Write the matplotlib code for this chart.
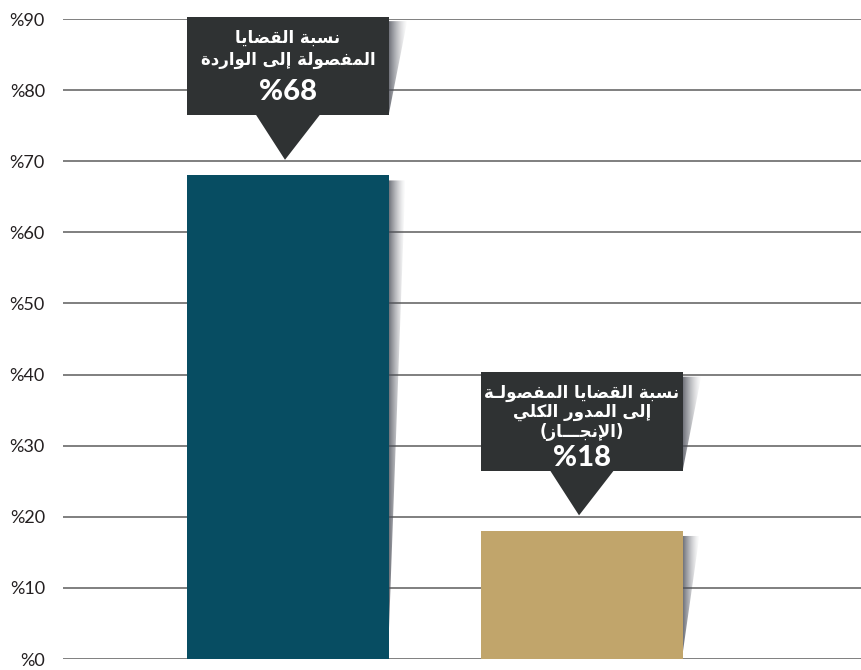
import matplotlib
matplotlib.use("Agg")
import matplotlib.pyplot as plt
import numpy as np
from matplotlib.patches import Rectangle, Polygon

# ---------------------------------------------------------------- data
categories = ["الواردة", "الإنجاز"]
values = [68, 18]
bar_colors = ["#074d62", "#c1a56b"]
callout_lines = [
    ["نسبة القضايا", "المفصولة إلى الواردة"],
    ["نسبة القضايا المفصولـة", "إلى المدور الكلي", "(الإنجـــاز)"],
]
y_ticks = [0, 10, 20, 30, 40, 50, 60, 70, 80, 90]
y_tick_labels = ["%" + str(t) for t in y_ticks]

# ------------------------------------------------- minimal Arabic shaping
# (isolated, final, initial, medial); right-joining letters have no initial/medial
FORMS = {
    "ا": ("\uFE8D", "\uFE8E", None, None),
    "إ": ("\uFE87", "\uFE88", None, None),
    "أ": ("\uFE83", "\uFE84", None, None),
    "ب": ("\uFE8F", "\uFE90", "\uFE91", "\uFE92"),
    "ة": ("\uFE93", "\uFE94", None, None),
    "ت": ("\uFE95", "\uFE96", "\uFE97", "\uFE98"),
    "ج": ("\uFE9D", "\uFE9E", "\uFE9F", "\uFEA0"),
    "د": ("\uFEA9", "\uFEAA", None, None),
    "ر": ("\uFEAD", "\uFEAE", None, None),
    "ز": ("\uFEAF", "\uFEB0", None, None),
    "س": ("\uFEB1", "\uFEB2", "\uFEB3", "\uFEB4"),
    "ص": ("\uFEB9", "\uFEBA", "\uFEBB", "\uFEBC"),
    "ض": ("\uFEBD", "\uFEBE", "\uFEBF", "\uFEC0"),
    "ف": ("\uFED1", "\uFED2", "\uFED3", "\uFED4"),
    "ق": ("\uFED5", "\uFED6", "\uFED7", "\uFED8"),
    "ك": ("\uFED9", "\uFEDA", "\uFEDB", "\uFEDC"),
    "ل": ("\uFEDD", "\uFEDE", "\uFEDF", "\uFEE0"),
    "م": ("\uFEE1", "\uFEE2", "\uFEE3", "\uFEE4"),
    "ن": ("\uFEE5", "\uFEE6", "\uFEE7", "\uFEE8"),
    "ه": ("\uFEE9", "\uFEEA", "\uFEEB", "\uFEEC"),
    "و": ("\uFEED", "\uFEEE", None, None),
    "ى": ("\uFEEF", "\uFEF0", None, None),
    "ي": ("\uFEF1", "\uFEF2", "\uFEF3", "\uFEF4"),
    "ـ": ("\u0640", "\u0640", "\u0640", "\u0640"),
}
LAM_ALEF = {"ا": ("\uFEFB", "\uFEFC"), "إ": ("\uFEF9", "\uFEFA"),
            "أ": ("\uFEF7", "\uFEF8"), "آ": ("\uFEF5", "\uFEF6")}
MIRROR = {"(": ")", ")": "("}


def _joining(unit):
    kind, ch = unit
    if kind == "LA":
        return "R"
    if ch not in FORMS:
        return None
    return "D" if FORMS[ch][2] is not None else "R"


def shape(text):
    units, i = [], 0
    while i < len(text):
        if text[i] == "ل" and i + 1 < len(text) and text[i + 1] in LAM_ALEF:
            units.append(("LA", text[i + 1]))
            i += 2
        else:
            units.append(("C", text[i]))
            i += 1
    out = []
    for k, u in enumerate(units):
        j = _joining(u)
        prev = units[k - 1] if k > 0 else None
        nxt = units[k + 1] if k + 1 < len(units) else None
        pj = prev is not None and _joining(prev) == "D"
        nj = j == "D" and nxt is not None and _joining(nxt) in ("D", "R")
        if u[0] == "LA":
            out.append(LAM_ALEF[u[1]][1 if pj else 0])
        elif j is None:
            out.append(u[1])
        else:
            f = FORMS[u[1]]
            out.append(f[3] if (pj and nj) else f[1] if pj else f[2] if nj else f[0])
    return "".join(MIRROR.get(c, c) for c in reversed(out))


# ---------------------------------------------------------------- figure
W, H, DPI = 861, 670, 100
fig = plt.figure(figsize=(W / DPI, H / DPI), dpi=DPI)
ax = fig.add_axes([63 / W, 11 / H, (W - 63) / W, (659 - 19) / H])
ax.set_xlim(-0.765, 1.949)
ax.set_ylim(0, 90)

for s in ax.spines.values():
    s.set_visible(False)
ax.set_xticks([])
ax.set_yticks(y_ticks)
ax.set_yticklabels(y_tick_labels, fontfamily="Lato", fontsize=13, color="#231f20")
ax.tick_params(axis="y", length=0, pad=13)
ax.yaxis.grid(True, color="#7f7f7f", linewidth=1.4)
ax.set_axisbelow(True)

x = np.arange(len(values))
bar_w = 0.687
ax.bar(x, values, width=bar_w, color=bar_colors, zorder=3)

shadow_rgb = np.array([0.30, 0.31, 0.35])
grad = np.zeros((1, 64, 4))
grad[0, :, :3] = shadow_rgb
grad[0, :, 3] = np.linspace(0.85, 0.0, 64) ** 1.4


def wedge_shadow(x_edge, top, bottom, width, z):
    poly = Polygon([(x_edge, top), (x_edge + width, top), (x_edge, bottom)],
                   closed=True, facecolor="none", edgecolor="none")
    ax.add_patch(poly)
    im = ax.imshow(grad, extent=[x_edge, x_edge + width, bottom, top],
                   aspect="auto", interpolation="bilinear", zorder=z)
    im.set_clip_path(poly)


box_color = "#2f3233"
for xi, v, lines in zip(x, values, callout_lines):
    right = xi + bar_w / 2
    # bar shadow
    wedge_shadow(right, v - 0.7, v * 0.06, 0.056, 2.5)

    tip = v + 2.2
    b_bottom = v + 8.5
    b_top = v + 22.3
    # callout shadow
    wedge_shadow(right, b_top - 0.6, b_bottom + 0.2, 0.062, 4)

    ax.add_patch(Rectangle((xi - bar_w / 2, b_bottom), bar_w, b_top - b_bottom,
                           facecolor=box_color, edgecolor="none", zorder=5,
                           clip_on=False))
    ax.add_patch(Polygon([(xi - 0.109, b_bottom + 0.05), (xi + 0.109, b_bottom + 0.05),
                          (xi - 0.01, tip)], closed=True, facecolor=box_color,
                         edgecolor="none", zorder=5, clip_on=False))

    n = len(lines)
    text = "\n".join(shape(s) for s in lines)
    if n == 2:
        ty, ls = b_top - 4.55, 1.3
        ny = b_top - 10.6
    else:
        ty, ls = b_top - 5.6, 1.1
        ny = b_top - 12.0
    ax.text(xi, ty, text, ha="center", va="center", color="white",
            fontfamily="DejaVu Sans", fontweight="bold", fontsize=12,
            linespacing=ls, zorder=6, clip_on=False, multialignment="center")
    ax.text(xi, ny, "%" + str(v), ha="center", va="center", color="white",
            fontfamily="Lato", fontweight="black", fontsize=21, zorder=6,
            clip_on=False)

ax.set_xlim(-0.765, 1.949)
ax.set_ylim(0, 90)
fig.savefig("out.png", dpi=DPI)
